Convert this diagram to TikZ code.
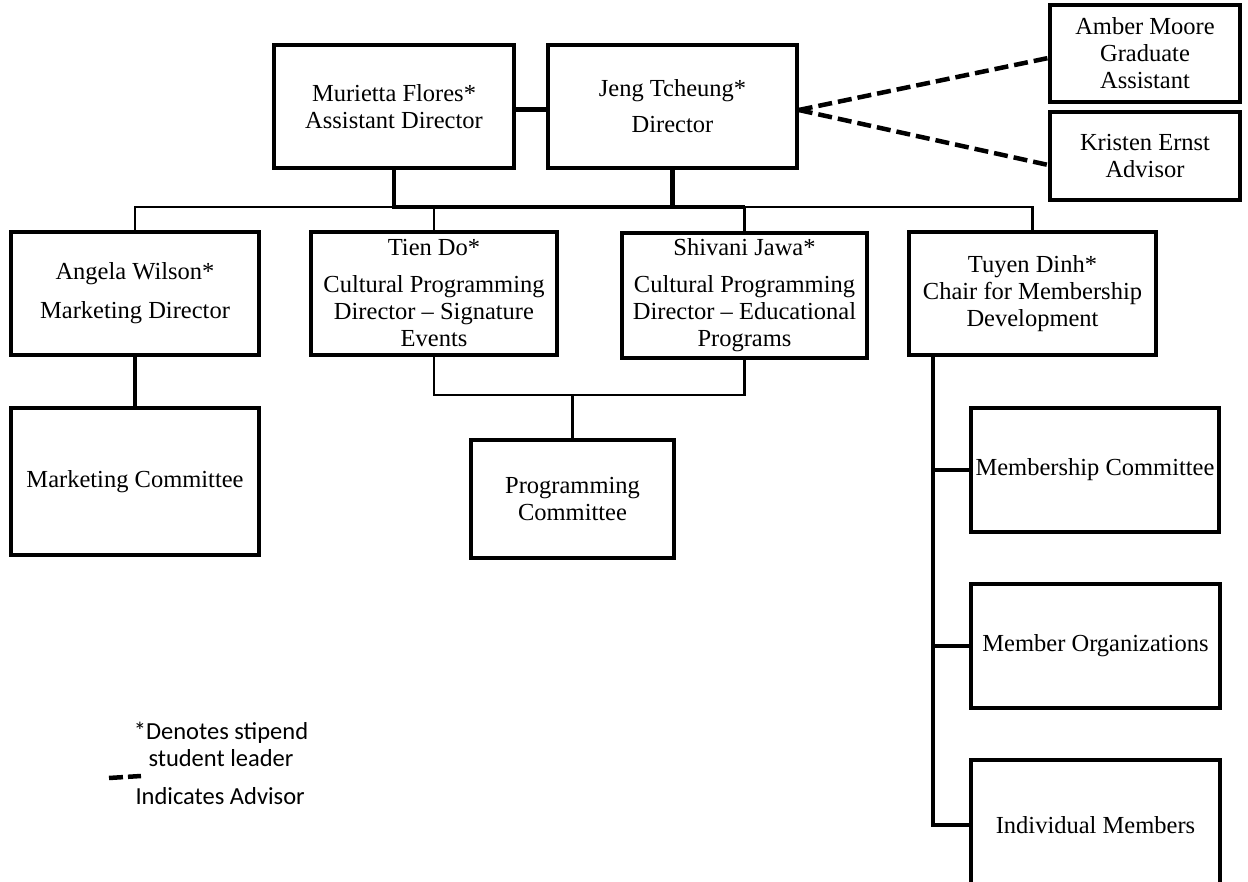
\documentclass[tikz,border=0pt]{standalone}
\usepackage{fontspec}
\setmainfont{Liberation Serif}
\newfontfamily\notefont{Carlito}
\begin{document}
\begin{tikzpicture}[x=1pt, y=-1pt,
  every node/.style={font=\fontsize{24.5}{27}\selectfont, align=center},
  post/.style={draw, line width=3.5pt, inner sep=0pt},
  wire/.style={line width=2.2pt},
  link/.style={line width=3.2pt},
  trunk/.style={line width=4.5pt},
  advisor/.style={line width=4.5pt, dash pattern=on 14pt off 6pt}]
  \useasboundingbox (0,0) rectangle (1248,882);
  \clip (0,0) rectangle (1248,882);

  \node[post, minimum width=240pt, minimum height=123pt] (muri) at (394,106.5) {Murietta Flores*\\Assistant Director};
  \node[post, minimum width=249pt, minimum height=123pt] (jeng) at (672.5,106.5) {Jeng Tcheung*\\[9pt]Director};
  \node[post, minimum width=190pt, minimum height=97pt] (amber) at (1145,53.5) {Amber Moore\\Graduate\\Assistant};
  \node[post, minimum width=190pt, minimum height=88pt] (kristen) at (1145,156) {Kristen Ernst\\Advisor};

  \node[post, minimum width=248pt, minimum height=123pt] (angela) at (135,293.5) {Angela Wilson*\\[12pt]Marketing Director};
  \node[post, minimum width=246pt, minimum height=123pt] (tien) at (434,293.5) {Tien Do*\\[10pt]Cultural Programming\\Director -- Signature\\Events};
  \node[post, minimum width=245pt, minimum height=125pt] (shivani) at (744.5,295.5) {Shivani Jawa*\\[10pt]Cultural Programming\\Director -- Educational\\Programs};
  \node[post, minimum width=247pt, minimum height=123pt] (tuyen) at (1032.5,293.5) {Tuyen Dinh*\\Chair for Membership\\Development};

  \node[post, minimum width=248pt, minimum height=147pt] (mktcom) at (135,481.5) {Marketing Committee};
  \node[post, minimum width=203pt, minimum height=118pt] (progcom) at (572.5,499) {Programming\\Committee};
  \node[post, minimum width=248pt, minimum height=124pt] (memcom) at (1095,470) {Membership Committee};
  \node[post, minimum width=249pt, minimum height=124pt] (memorg) at (1095.5,646) {Member Organizations};
  \node[post, minimum width=249pt, minimum height=130pt] (indiv) at (1095.5,825) {Individual Members};

  \coordinate (bus) at (0,207);
  \coordinate (join) at (0,395);
  \coordinate (spine) at (933,0);

  \draw[trunk] ([yshift=-3pt]muri.east) -- ([yshift=-3pt]jeng.west);
  \draw[advisor] ([yshift=-3.5pt]jeng.east) -- ([yshift=-4.5pt]amber.west);
  \draw[advisor] ([yshift=-3.5pt]jeng.east) -- ([yshift=-9pt]kristen.west);

  \draw[wire] (angela.north) -- (angela.north |- bus) -- (tuyen.north |- bus) -- (tuyen.north);
  \draw[trunk] (muri.south) -- (muri.south |- bus) -- (shivani.north |- bus);
  \draw[trunk] (jeng.south) -- (jeng.south |- bus);
  \draw[wire] (tien.north |- bus) -- (tien.north);
  \draw[wire] (shivani.north |- bus) -- (shivani.north);

  \draw[link] (angela) -- (mktcom);
  \draw[wire] (tien.south) -- (tien.south |- join) -- (shivani.south |- join) -- (shivani.south);
  \draw[wire] (progcom.north |- join) -- (progcom.north);

  \draw[link] (tuyen.south -| spine) -- (spine |- indiv.west) -- (indiv.west);
  \draw[link] (spine |- memcom.west) -- (memcom.west);
  \draw[link] (spine |- memorg.west) -- (memorg.west);

  \node[font=\notefont\fontsize{24.5}{27}\selectfont] (stipend) at (221,744) {*Denotes stipend\\student leader};
  \draw[advisor, dash pattern=on 14pt off 5pt] (109,778) -- (141,776);
  \node[font=\notefont\fontsize{24.5}{27}\selectfont, anchor=west] (advnote) at (132,796) {Indicates Advisor};
\end{tikzpicture}
\end{document}
